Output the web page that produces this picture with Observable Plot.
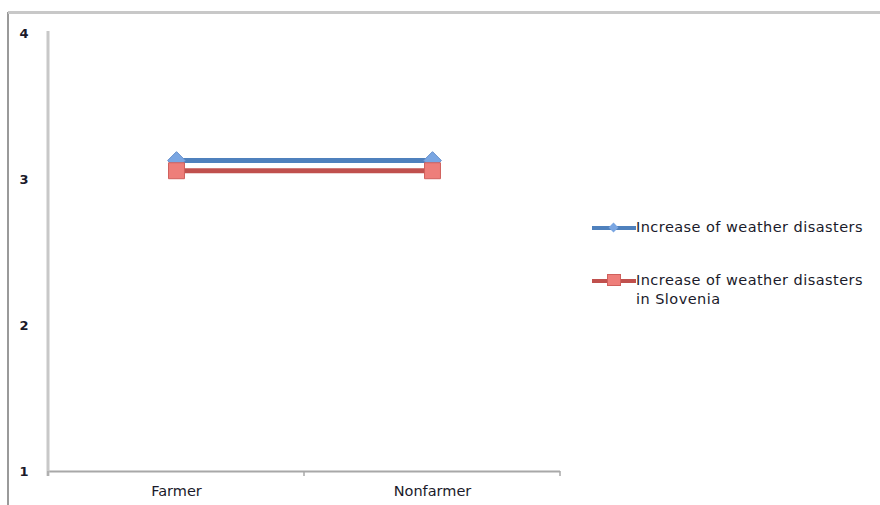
<!DOCTYPE html>
<html><head><meta charset="utf-8">
<script src="https://cdn.jsdelivr.net/npm/d3@7"></script>
<script src="https://cdn.jsdelivr.net/npm/@observablehq/plot@0.6"></script>
<style>
body{margin:0;background:#fff;font-family:"DejaVu Sans",sans-serif;}
#wrap{position:relative;width:880px;height:505px;overflow:hidden;}
#frameL{position:absolute;left:7px;top:12px;width:2px;height:493px;background:#9a9a9a;}
#frameT{position:absolute;left:8px;top:11px;width:872px;height:3px;background:#c8c8c8;}
.leg{position:absolute;left:592px;font-size:14.5px;letter-spacing:0.45px;color:#1a1a2a;line-height:19px;}
.leg .sw{position:absolute;left:0;width:44px;height:4px;}
.leg .mk{position:absolute;}
.leg .tx{position:absolute;left:44px;white-space:nowrap;}
</style></head>
<body><div id="wrap"><div id="frameL"></div><div id="frameT"></div><div id="chart"></div>
<div class="leg" style="top:218px"><div class="sw" style="top:8px;background:#4F81BD"></div><div class="mk" style="left:18px;top:6px;width:7px;height:7px;background:#7aa6e2;transform:rotate(45deg)"></div><div class="tx" style="top:0">Increase of weather disasters</div></div>
<div class="leg" style="top:271px"><div class="sw" style="top:8px;background:#C0504D"></div><div class="mk" style="left:15px;top:3px;width:14px;height:12px;background:#ee7e7a;border:1px solid #d0605c;box-sizing:border-box"></div><div class="tx" style="top:0">Increase of weather disasters<br>in Slovenia</div></div>
</div>
<script>
const categories = ["Farmer", "Nonfarmer"];
const seriesNames = ["Increase of weather disasters", "Increase of weather disasters in Slovenia"];
const seriesGeneral = [3.13, 3.13];
const seriesSlovenia = [3.06, 3.06];
const yTicks = [1, 2, 3, 4];

const rows = [];
categories.forEach((c, i) => {
  rows.push({cat: c, series: seriesNames[0], value: seriesGeneral[i]});
  rows.push({cat: c, series: seriesNames[1], value: seriesSlovenia[i]});
});
const blue = rows.filter(d => d.series === seriesNames[0]);
const red = rows.filter(d => d.series === seriesNames[1]);

const chart = Plot.plot({
  width: 880, height: 505,
  marginLeft: 48, marginRight: 320, marginTop: 33, marginBottom: 34,
  style: {fontFamily: "'DejaVu Sans', sans-serif", fontSize: "13px", color: "#1a1a2a", background: "transparent"},
  x: {type: "point", domain: categories, padding: 0.5, label: null},
  y: {domain: [1, 4], ticks: yTicks, label: null},
  marks: [
    Plot.gridY(yTicks.filter(t => t > 1), {stroke: "#c8c8c8", strokeOpacity: 1, strokeWidth: 2.5, x1: 42}),
    Plot.axisY({ticks: yTicks, tickFormat: "d", tickSize: 0, tickPadding: 20, fontWeight: "bold", fontSize: 13}),
    Plot.axisX({tickSize: 0, tickPadding: 14, fontSize: 14.5, style: {letterSpacing: "0.6px"}}),
    Plot.ruleY([1], {stroke: "#a8a8a8", strokeWidth: 2}),
    Plot.line(blue, {x: "cat", y: "value", stroke: "#4F81BD", strokeWidth: 5}),
    Plot.dot(blue, {x: "cat", y: "value", symbol: "diamond2", r: 8, fill: "#7aa6e2", stroke: "#6690cc", strokeWidth: 1}),
    Plot.line(red, {x: "cat", y: "value", stroke: "#C0504D", strokeWidth: 5}),
    Plot.dot(red, {x: "cat", y: "value", symbol: "square", r: 9, fill: "#ee7e7a", stroke: "#d0605c", strokeWidth: 1})
  ]
});
document.getElementById("chart").appendChild(chart);

// y axis line and bottom ticks placed via scales
const ys = chart.scale("y");
const svg = d3.select(chart);
const left = 48, right = 560, bottom = ys.apply(1);
svg.append("line").attr("x1", left).attr("x2", left).attr("y1", ys.apply(4) - 2).attr("y2", bottom + 5)
  .attr("stroke", "#c8c8c8").attr("stroke-width", 3);
[left, (left + right) / 2, right].forEach(x => {
  svg.append("line").attr("x1", x).attr("x2", x).attr("y1", bottom).attr("y2", bottom + 5).attr("stroke", "#a8a8a8").attr("stroke-width", 1.5);
});
</script></body></html>
